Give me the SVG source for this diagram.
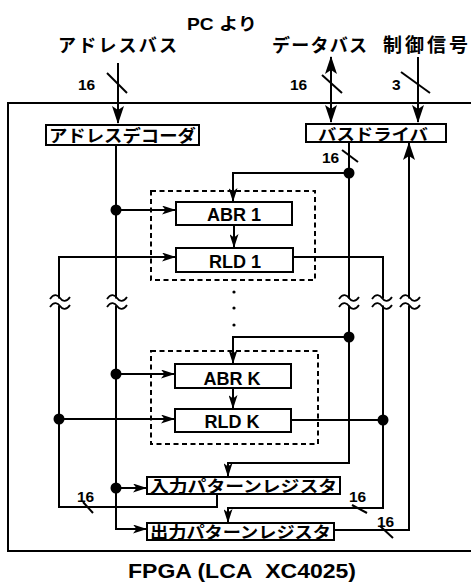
<svg xmlns="http://www.w3.org/2000/svg" width="471" height="583" viewBox="0 0 471 583">
<style>
.box{fill:#fff;stroke:#000;stroke-width:2}
.ln{fill:none;stroke:#000;stroke-width:2}
.dash{fill:none;stroke:#000;stroke-width:2;stroke-dasharray:5 3.5}
.jp{font-family:"Noto Sans CJK JP","Liberation Sans",sans-serif;font-weight:bold;fill:#000}
.en{font-family:"Liberation Sans","Noto Sans CJK JP",sans-serif;font-weight:bold;fill:#000}
.num{font-family:"Liberation Sans",sans-serif;font-weight:bold;font-size:15.5px;fill:#000}
.dot{fill:#000}
</style>
<defs>
<marker id="ah" viewBox="0 0 14 9" refX="13" refY="4.5" markerWidth="14" markerHeight="9" markerUnits="userSpaceOnUse" orient="auto">
<path d="M0,0 L14,4.5 L0,9 L3.5,4.5 z" fill="#000"/>
</marker>
<marker id="ahL" viewBox="0 0 18 12" refX="17" refY="6" markerWidth="18" markerHeight="12" markerUnits="userSpaceOnUse" orient="auto">
<path d="M0,0 L18,6 L0,12 L4,6 z" fill="#000"/>
</marker>
<g id="brk">
<rect x="-4" y="-3.5" width="8" height="7" fill="#fff"/>
<path d="M-10,-3 C-6,-9 -2,-7 0,-4 C2,-1 6,1 10,-5" fill="none" stroke="#000" stroke-width="1.8"/>
<path d="M-10,5 C-6,-1 -2,1 0,4 C2,7 6,9 10,3" fill="none" stroke="#000" stroke-width="1.8"/>
</g>
</defs>
<rect width="471" height="583" fill="#fff"/>

<g id="fpga">
<path class="ln" d="M473,103 H8 V551 H473"/>
<text class="en" x="128" y="578" font-size="21" textLength="228" lengthAdjust="spacingAndGlyphs">FPGA (LCA&#160; XC4025)</text>
</g>

<g id="labels">
<text class="en" x="187" y="30" font-size="17" textLength="70" lengthAdjust="spacingAndGlyphs">PC より</text>
<text class="jp" x="58" y="52" font-size="18" textLength="119" lengthAdjust="spacing">アドレスバス</text>
<text class="jp" x="272" y="52" font-size="18" textLength="95" lengthAdjust="spacing">データバス</text>
<text class="jp" x="383" y="52" font-size="19" textLength="85" lengthAdjust="spacing">制御信号</text>
<text class="num" x="78" y="90">16</text>
<text class="num" x="290" y="90">16</text>
<text class="num" x="392" y="90">3</text>
<text class="num" x="322" y="163">16</text>
<text class="num" x="77" y="502">16</text>
<text class="num" x="349" y="502">16</text>
<text class="num" x="377" y="527">16</text>
</g>

<g id="dashed-groups">
<rect class="dash" x="151" y="191" width="164" height="89"/>
<rect class="dash" x="151" y="351" width="167" height="93"/>
<circle class="dot" cx="234" cy="292" r="1.6"/>
<circle class="dot" cx="234" cy="308" r="1.6"/>
<circle class="dot" cx="234" cy="325" r="1.6"/>
</g>

<g id="connectors">
<path class="ln" d="M118,63 V123" marker-end="url(#ahL)"/>
<path class="ln" d="M107,73 L127,93"/>
<path class="ln" d="M331,90 V57" marker-end="url(#ahL)"/>
<path class="ln" d="M331,90 V122" marker-end="url(#ahL)"/>
<path class="ln" d="M322,75 L342,93"/>
<path class="ln" d="M418,57 V122" marker-end="url(#ahL)"/>
<path class="ln" d="M401,72 L430,93"/>
<path class="ln" d="M116,145 V529 H146" marker-end="url(#ah)"/>
<path class="ln" d="M116,210 H175" marker-end="url(#ah)"/>
<path class="ln" d="M116,374 H174" marker-end="url(#ah)"/>
<path class="ln" d="M116,488 H146" marker-end="url(#ah)"/>
<path class="ln" d="M349,142 V463 H228 V476" marker-end="url(#ah)"/>
<path class="ln" d="M349,173 H233 V201" marker-end="url(#ah)"/>
<path class="ln" d="M349,337 H233 V363" marker-end="url(#ah)"/>
<path class="ln" d="M342,150 L358,162"/>
<path class="ln" d="M234,225 V247" marker-end="url(#ah)"/>
<path class="ln" d="M233,388 V408" marker-end="url(#ah)"/>
<path class="ln" d="M293,257 H383 V508 H228 V522" marker-end="url(#ah)"/>
<path class="ln" d="M291,420 H383"/>
<path class="ln" d="M352,505 L367,513"/>
<path class="ln" d="M217,494 V507 H59 V257 H175" marker-end="url(#ah)"/>
<path class="ln" d="M59,419 H174" marker-end="url(#ah)"/>
<path class="ln" d="M83,502 L93,513"/>
<path class="ln" d="M334,530 H409 V143" marker-end="url(#ahL)"/>
<path class="ln" d="M380,526 L393,538"/>
<circle class="dot" cx="116" cy="210" r="5.5"/>
<circle class="dot" cx="116" cy="374" r="5.5"/>
<circle class="dot" cx="116" cy="488" r="5.5"/>
<circle class="dot" cx="349" cy="173" r="5.5"/>
<circle class="dot" cx="349" cy="337" r="5.5"/>
<circle class="dot" cx="383" cy="420" r="5.5"/>
<circle class="dot" cx="59" cy="419" r="5.5"/>
<use href="#brk" x="60" y="302"/>
<use href="#brk" x="117" y="302"/>
<use href="#brk" x="349" y="302"/>
<use href="#brk" x="382" y="302"/>
<use href="#brk" x="410" y="302"/>
</g>

<g id="decoder">
<rect class="box" x="46" y="125" width="153" height="20"/>
<text class="jp" x="49" y="142" font-size="17" textLength="147" lengthAdjust="spacingAndGlyphs">アドレスデコーダ</text>
</g>
<g id="busdriver">
<rect class="box" x="306" y="124" width="140" height="18"/>
<text class="jp" x="318" y="140" font-size="16" textLength="110" lengthAdjust="spacingAndGlyphs">バスドライバ</text>
</g>
<g id="abr1">
<rect class="box" x="176" y="202" width="116" height="23"/>
<text class="en" x="234" y="221" font-size="18" text-anchor="middle">ABR 1</text>
</g>
<g id="rld1">
<rect class="box" x="176" y="248" width="117" height="24"/>
<text class="en" x="235" y="268" font-size="18" text-anchor="middle">RLD 1</text>
</g>
<g id="abrk">
<rect class="box" x="175" y="364" width="116" height="24"/>
<text class="en" x="232" y="385" font-size="18" text-anchor="middle">ABR K</text>
</g>
<g id="rldk">
<rect class="box" x="175" y="409" width="116" height="23"/>
<text class="en" x="232" y="428" font-size="18" text-anchor="middle">RLD K</text>
</g>
<g id="inreg">
<rect class="box" x="147" y="477" width="193" height="17"/>
<text class="jp" x="150" y="492" font-size="16" textLength="187" lengthAdjust="spacingAndGlyphs">入力パターンレジスタ</text>
</g>
<g id="outreg">
<rect class="box" x="147" y="523" width="187" height="17"/>
<text class="jp" x="150" y="538" font-size="16" textLength="181" lengthAdjust="spacingAndGlyphs">出力パターンレジスタ</text>
</g>
</svg>
